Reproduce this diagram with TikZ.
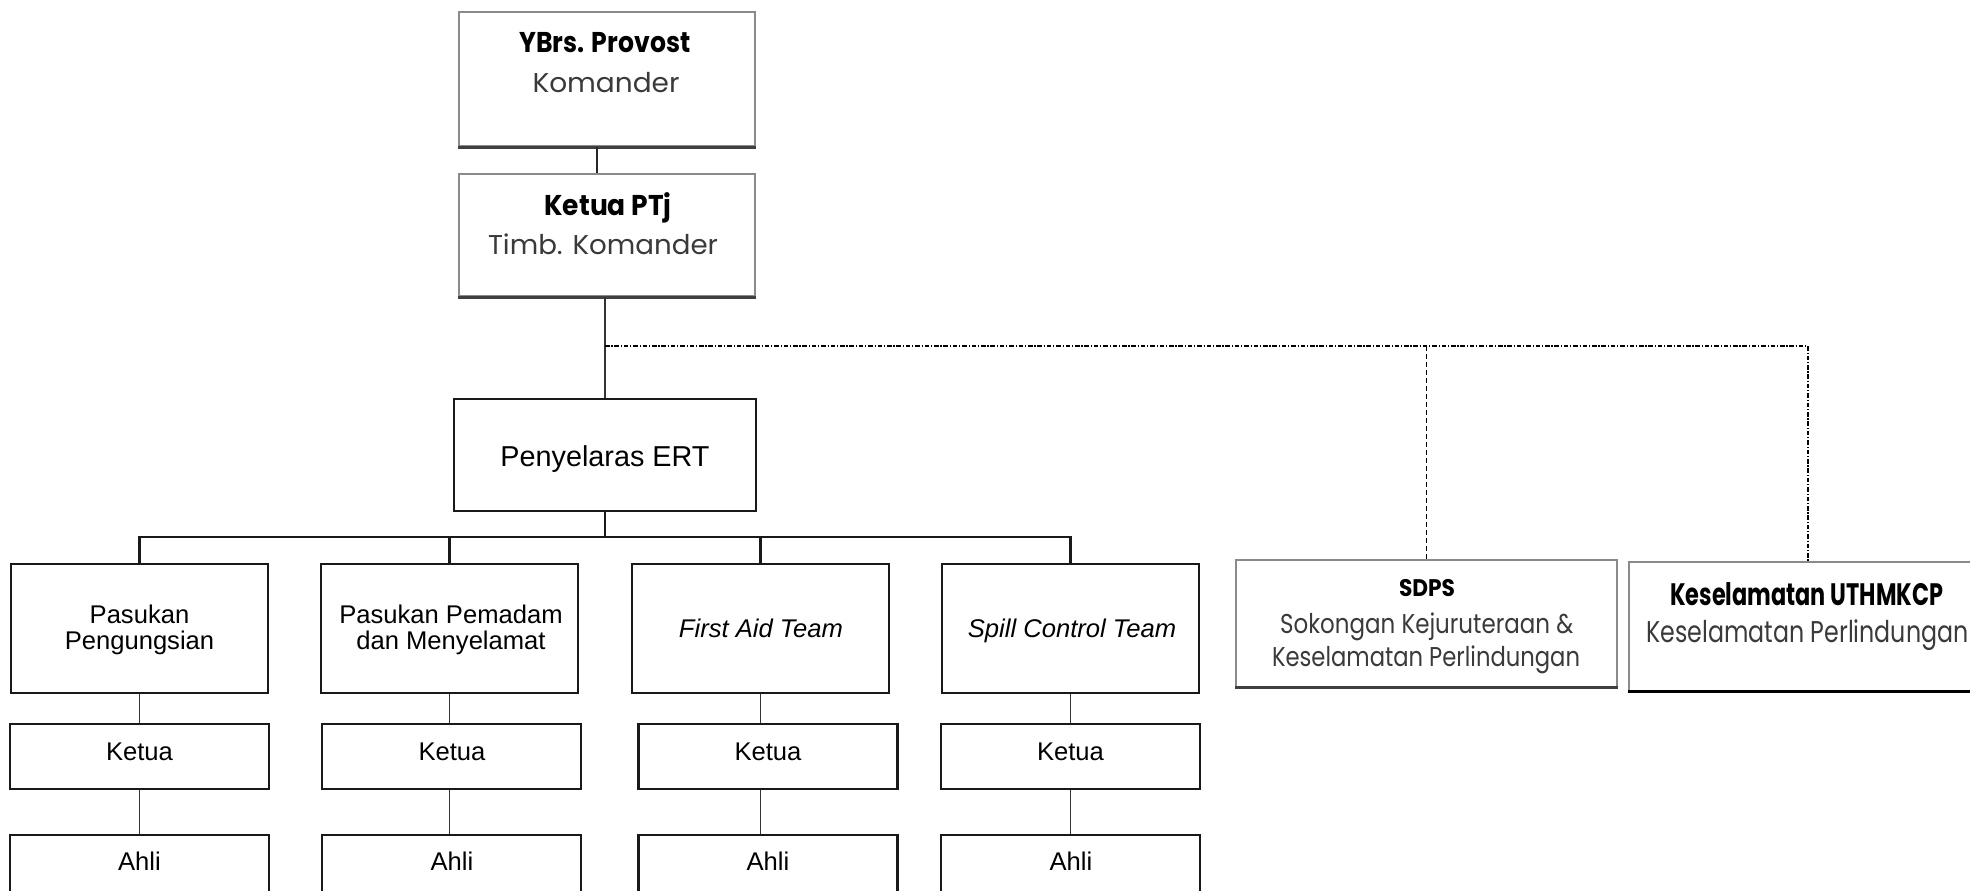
\documentclass[tikz,border=0pt]{standalone}
\usepackage{fontspec}
\setmainfont{Liberation Sans}
\newfontfamily\gothic{Poppins}
\usepackage{graphicx}
\newcommand\fitw[2]{\resizebox{#1}{\height}{#2}}
\definecolor{subgray}{HTML}{3A3A3A}
\definecolor{boxgray}{HTML}{8A8A8A}
\definecolor{shadowgray}{HTML}{404040}
\begin{document}
\begin{tikzpicture}[x=0.5pt,y=-0.5pt,
  teambox/.style={draw=black!90, line width=1.4pt, minimum width=128.5pt, minimum height=64.5pt, inner sep=0pt},
  smallbox/.style={draw=black!90, line width=1.4pt, minimum width=129.5pt, minimum height=32.5pt, inner sep=0pt},
  gbox/.style={draw=boxgray, line width=1pt, fill=white, inner sep=0pt},
  shadowline/.style={draw=shadowgray, line width=1.5pt},
  txt/.style={anchor=base, inner sep=0pt, font=\fontsize{12.8}{13}\selectfont},
  itxt/.style={txt, font=\fontsize{12.8}{13}\selectfont\itshape},
  title/.style={anchor=base, inner sep=0pt, text=black},
  sub/.style={anchor=base, inner sep=0pt, text=subgray},
  thickconn/.style={line width=1.4pt, draw=black!90},
  midconn/.style={line width=1pt, draw=black!85},
  thinconn/.style={line width=0.8pt, draw=black!80},
  dashdot/.style={line width=0.7pt, dash pattern=on 2.3pt off 0.9pt on 0.6pt off 0.9pt},
  dashline/.style={line width=0.7pt, dash pattern=on 2.5pt off 1.5pt},
]
\useasboundingbox (0,0) rectangle (1970,890);

% top boxes
\node[gbox, minimum width=148pt, minimum height=67pt] (prov) at (607,79) {};
\draw[shadowline] (prov.south west) -- (prov.south east);
\node[title, font=\gothic\bfseries\fontsize{14.3}{16}\selectfont] (provT) at (605,52) {\fitw{85.5pt}{YBrs. Provost}};
\node[sub, font=\gothic\fontsize{13.6}{16}\selectfont] (provS) at (606,92) {\fitw{73.5pt}{Komander}};

\node[gbox, minimum width=148pt, minimum height=61pt] (ptj) at (607,235) {};
\draw[shadowline] (ptj.south west) -- (ptj.south east);
\node[title, font=\gothic\bfseries\fontsize{14.3}{16}\selectfont] (ptjT) at (608,215) {\fitw{63.5pt}{Ketua PTj}};
\node[sub, font=\gothic\fontsize{13.6}{16}\selectfont] (ptjS) at (603,254) {\fitw{115pt}{Timb. Komander}};

% coordinator
\node[draw=black!90, line width=1.4pt, minimum width=151pt, minimum height=56pt, inner sep=0pt] (pen) at (605,455) {};
\node[txt, font=\fontsize{14.4}{16}\selectfont] (penT) at (605,466) {Penyelaras ERT};

% teams
\node[teambox] (t1) at (139.5,628.5) {};
\node[teambox] (t2) at (449.5,628.5) {};
\node[teambox] (t3) at (760.5,628.5) {};
\node[teambox] (t4) at (1070.5,628.5) {};
\node[txt] (t1a) at (139.5,623) {Pasukan};
\node[txt] (t1b) at (139.5,649) {Pengungsian};
\node[txt] (t2a) at (451,623) {Pasukan Pemadam};
\node[txt] (t2b) at (451,649) {dan Menyelamat};
\node[itxt] (t3a) at (761,637) {First Aid Team};
\node[itxt] (t4a) at (1072,637) {Spill Control Team};

% ketua
\node[smallbox] (k1) at (139.5,756.5) {};
\node[smallbox] (k2) at (451.5,756.5) {};
\node[smallbox] (k3) at (768,756.5) {};
\node[smallbox] (k4) at (1070.5,756.5) {};
\node[txt] (k1t) at (139.5,760) {Ketua};
\node[txt] (k2t) at (452,760) {Ketua};
\node[txt] (k3t) at (768,760) {Ketua};
\node[txt] (k4t) at (1070.5,760) {Ketua};

% ahli
\node[smallbox] (a1) at (139.5,867.5) {};
\node[smallbox] (a2) at (451.5,867.5) {};
\node[smallbox] (a3) at (768,867.5) {};
\node[smallbox] (a4) at (1070.5,867.5) {};
\node[txt] (a1t) at (139.5,870) {Ahli};
\node[txt] (a2t) at (452,870) {Ahli};
\node[txt] (a3t) at (768,870) {Ahli};
\node[txt] (a4t) at (1071,870) {Ahli};

% side boxes
\node[draw=boxgray, line width=0.8pt, fill=white, minimum width=190.5pt, minimum height=63.5pt, inner sep=0pt] (sdps) at (1426.5,623.5) {};
\draw[draw=shadowgray, line width=1.6pt] (sdps.south west) -- (sdps.south east);
\node[title, font=\gothic\bfseries\fontsize{12}{14}\selectfont] (sdpsT) at (1427,596) {\fitw{28pt}{SDPS}};
\node[sub, font=\gothic\fontsize{13.6}{16}\selectfont] (sdpsS1) at (1426.7,633) {\fitw{146.5pt}{Sokongan Kejuruteraan \&}};
\node[sub, font=\gothic\fontsize{13.6}{16}\selectfont] (sdpsS2) at (1426,666) {\fitw{154pt}{Keselamatan Perlindungan}};

\node[draw=boxgray, line width=0.8pt, fill=white, minimum width=179pt, minimum height=64.5pt, inner sep=0pt] (kes) at (1808,626.5) {};
\draw[draw=black, line width=1.4pt] (kes.south west) -- (kes.south east);
\node[title, font=\gothic\bfseries\fontsize{15.5}{17}\selectfont] (kesT) at (1806.7,605) {\fitw{136.5pt}{Keselamatan UTHMKCP}};
\node[sub, font=\gothic\fontsize{15}{17}\selectfont] (kesS) at (1807.5,642) {\fitw{161pt}{Keselamatan Perlindungan}};

% connectors
\draw[midconn] ([xshift=-5pt]prov.south) -- ([xshift=-5pt]ptj.north);
\draw[thinconn] (pen.north |- ptj.south) -- (pen.north);
\coordinate (bus) at (0,537);
\draw[thickconn] (pen.south) -- (pen.south |- bus);
\draw[thickconn] (t1.north) -- (t1.north |- bus) -- (t4.north |- bus) -- (t4.north);
\draw[thickconn] (t2.north) -- (t2.north |- bus);
\draw[thickconn] (t3.north) -- (t3.north |- bus);
\foreach \i in {1,2,3,4}{
  \draw[thinconn] (t\i.south) -- (t\i.south |- k\i.north);
  \draw[thinconn] (k\i.south -| t\i.south) -- (t\i.south |- a\i.north);
}
\coordinate (dd) at (605,346);
\draw[dashdot] (dd) -- (kes.north |- dd) -- (kes.north);
\draw[dashline] (sdps.north |- dd) -- (sdps.north);
\end{tikzpicture}
\end{document}
